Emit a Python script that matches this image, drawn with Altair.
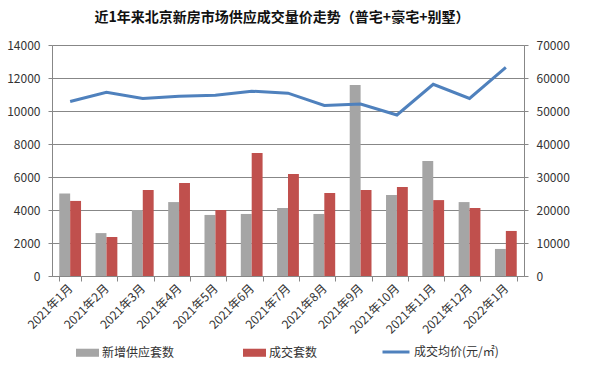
import altair as alt
import pandas as pd

months = ["2021年1月", "2021年2月", "2021年3月", "2021年4月", "2021年5月", "2021年6月",
          "2021年7月", "2021年8月", "2021年9月", "2021年10月", "2021年11月", "2021年12月", "2022年1月"]
supply = [5000, 2600, 4000, 4480, 3700, 3760, 4120, 3760, 11580, 4910, 6970, 4480, 1640]
deals = [4550, 2360, 5210, 5630, 4000, 7450, 6180, 5030, 5210, 5390, 4600, 4120, 2730]
price = [52900, 55700, 53800, 54500, 54800, 56000, 55400, 51700, 52100, 48800, 58100, 53800, 63200]
series = ["新增供应套数", "成交套数", "成交均价(元/㎡)"]
colors = ["#A5A5A5", "#C0504D", "#4F81BD"]
left_ticks = [0, 2000, 4000, 6000, 8000, 10000, 12000, 14000]
right_ticks = [0, 10000, 20000, 30000, 40000, 50000, 60000, 70000]

bars_df = pd.DataFrame(
    [{"month": m, "series": series[0], "value": v} for m, v in zip(months, supply)]
    + [{"month": m, "series": series[1], "value": v} for m, v in zip(months, deals)]
)
line_df = pd.DataFrame({"month": months, "price": price})

FONT = "Noto Sans CJK SC"
GRID = "#878787"

rect_path = "M-1,-0.35H1V0.35H-1Z"

x_enc = alt.X(
    "month:N", sort=months, title=None,
    scale=alt.Scale(paddingInner=0.4, paddingOuter=0.2),
    axis=alt.Axis(labelAngle=-45, labelAlign="right", labelBaseline="middle",
                  tickBand="extent", tickSize=5, tickColor=GRID, domainColor=GRID,
                  labelFontSize=12, labelColor="#333333", labelPadding=5, labelFont=FONT),
)

bars = alt.Chart(bars_df).mark_bar().encode(
    x=x_enc,
    xOffset=alt.XOffset("series:N", sort=series[:2], scale=alt.Scale(paddingInner=0, paddingOuter=0)),
    y=alt.Y("value:Q", title=None,
            scale=alt.Scale(domain=[0, 14000], nice=False),
            axis=alt.Axis(values=left_ticks, format="d", grid=True, gridColor=GRID, domainColor=GRID,
                          tickColor=GRID, tickSize=4, labelPadding=8, labelFontSize=12,
                          labelColor="#333333", labelFont=FONT)),
    color=alt.Color("series:N", scale=alt.Scale(domain=series[:2], range=colors[:2]),
                    legend=alt.Legend(
                        title=None, orient="none", direction="horizontal",
                        legendX=24, legendY=296,
                        symbolType=rect_path, symbolSize=529, symbolStrokeWidth=0,
                        labelFontSize=12, labelFont=FONT, labelColor="#333333",
                        labelOffset=3, columnPadding=68,
                    )),
)

line = alt.Chart(line_df).mark_line(strokeWidth=3).encode(
    x=alt.X("month:N", sort=months),
    y=alt.Y("price:Q", title=None,
            scale=alt.Scale(domain=[0, 70000], nice=False),
            axis=alt.Axis(orient="right", values=right_ticks, format="d", grid=False, domainColor=GRID,
                          tickColor=GRID, tickSize=4, labelPadding=8, labelFontSize=12,
                          labelColor="#333333", labelFont=FONT)),
    stroke=alt.Stroke("s:N", scale=alt.Scale(domain=series[2:], range=colors[2:]),
                      legend=alt.Legend(
                          title=None, orient="none", direction="horizontal",
                          legendX=329, legendY=292,
                          symbolType="stroke", symbolSize=729, symbolStrokeWidth=3,
                          labelFontSize=12, labelFont=FONT, labelColor="#333333",
                          labelOffset=3,
                      )),
).transform_calculate(s="'" + series[2] + "'")

chart = alt.layer(bars, line).resolve_scale(y="independent").properties(
    width=472, height=231,
    autosize=alt.AutoSizeParams(type="none"),
    padding={"left": 52, "top": 45, "right": 84, "bottom": 101},
    title=alt.TitleParams("近1年来北京新房市场供应成交量价走势（普宅+豪宅+别墅）",
                          anchor="middle", fontSize=14, fontWeight="bold", font=FONT,
                          color="#111111", offset=14, dx=-6),
).configure_view(stroke=None).configure(font=FONT, background="white")

chart.save("out.html", embed_options={"renderer": "svg", "actions": False})
